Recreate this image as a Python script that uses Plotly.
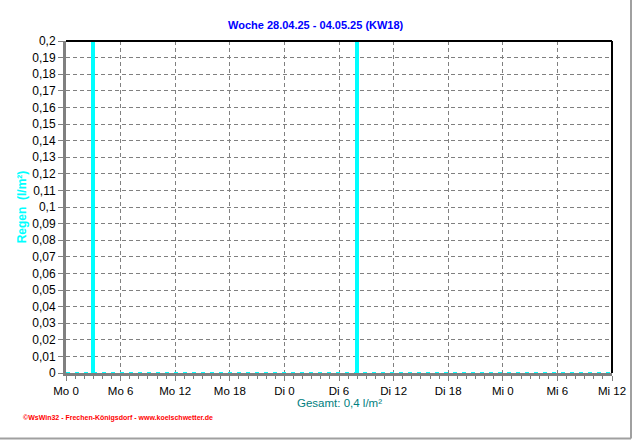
import plotly.graph_objects as go

# Data
hours = [3, 32]          # hours since Mo 0
rain = [0.2, 0.2]        # l/m²
zero_x = [0, 60]
zero_y = [0, 0]
tick_hours = [0, 6, 12, 18, 24, 30, 36, 42, 48, 54, 60]
tick_labels = ["Mo 0", "Mo 6", "Mo 12", "Mo 18", "Di 0", "Di 6", "Di 12", "Di 18", "Mi 0", "Mi 6", "Mi 12"]
y_ticks = [round(i * 0.01, 2) for i in range(21)]
y_labels = [("%g" % v).replace(".", ",") for v in y_ticks]

W, H = 632, 440
L, R, T, B = 66, 612, 41, 373

def px(x):
    return (x - L) / (R - L)

def py(y):
    return (B - y) / (B - T)

fig = go.Figure()
fig.add_trace(go.Scatter(x=zero_x, y=zero_y, mode="lines",
                         line=dict(color="#00FFFF", width=2, dash="4px,5px"),
                         hoverinfo="skip", showlegend=False, cliponaxis=False))
fig.add_trace(go.Bar(x=hours, y=rain, width=0.45, marker=dict(color="#00FFFF", line=dict(width=0)),
                     showlegend=False))

font = "Liberation Sans, Arial, sans-serif"
fig.update_layout(
    width=W, height=H,
    margin=dict(l=L, r=W - R, t=T, b=H - B, autoexpand=False),
    paper_bgcolor="white", plot_bgcolor="white",
    font=dict(family=font, size=12, color="black"),
    bargap=0,
    xaxis=dict(range=[0, 60], tickvals=tick_hours, ticktext=tick_labels, automargin=False,
               showgrid=True, gridcolor="#808080", griddash="4px,3px", gridwidth=1,
               showline=True, linecolor="#808080", linewidth=3,
               ticks="outside", ticklen=5, tickcolor="#808080", tickwidth=1,
               minor=dict(dtick=1, tick0=0, ticks="outside", ticklen=3, tickcolor="#808080", showgrid=False),
               zeroline=False, fixedrange=True, tickfont=dict(size=11.5)),
    yaxis=dict(range=[0, 0.2], tickvals=y_ticks, ticktext=y_labels, automargin=False,
               showgrid=True, gridcolor="#808080", griddash="4px,3px", gridwidth=1,
               showline=True, linecolor="#808080", linewidth=3,
               ticks="outside", ticklen=5, tickcolor="#808080", tickwidth=1,
               zeroline=False, fixedrange=True, tickfont=dict(size=12),
               title=dict(text="<b>Regen  (l/m²)</b>", font=dict(color="#00FFFF", size=12), standoff=4)),
    shapes=[
        dict(type="line", xref="paper", yref="paper", x0=0, x1=1, y0=1, y1=1,
             line=dict(color="black", width=2)),
        dict(type="line", xref="paper", yref="paper", x0=1, x1=1, y0=0, y1=1,
             line=dict(color="black", width=2)),
        dict(type="line", xref="paper", yref="paper", x0=px(0), x1=px(631), y0=py(438.5), y1=py(438.5),
             line=dict(color="#A0A0A0", width=2)),
        dict(type="line", xref="paper", yref="paper", x0=px(631), x1=px(631), y0=py(438.5), y1=py(0),
             line=dict(color="#A0A0A0", width=2)),
    ],
    annotations=[
        dict(text="<b>Woche 28.04.25 - 04.05.25 (KW18)</b>", xref="paper", yref="paper",
             x=px(316), y=py(25), xanchor="center", yanchor="middle", showarrow=False,
             font=dict(color="#0000FF", size=11)),
        dict(text="Gesamt: 0,4 l/m²", xref="paper", yref="paper",
             x=px(339), y=py(403), xanchor="center", yanchor="middle", showarrow=False,
             font=dict(color="#008080", size=11.5)),
        dict(text="<b>©WsWin32 - Frechen-Königsdorf - www.koelschwetter.de</b>", xref="paper", yref="paper",
             x=px(21), y=py(418), xanchor="left", yanchor="middle", showarrow=False,
             font=dict(color="#FF0000", size=7, family="Liberation Sans Narrow, Liberation Sans, sans-serif")),
    ],
)

fig.write_html("out.html")
